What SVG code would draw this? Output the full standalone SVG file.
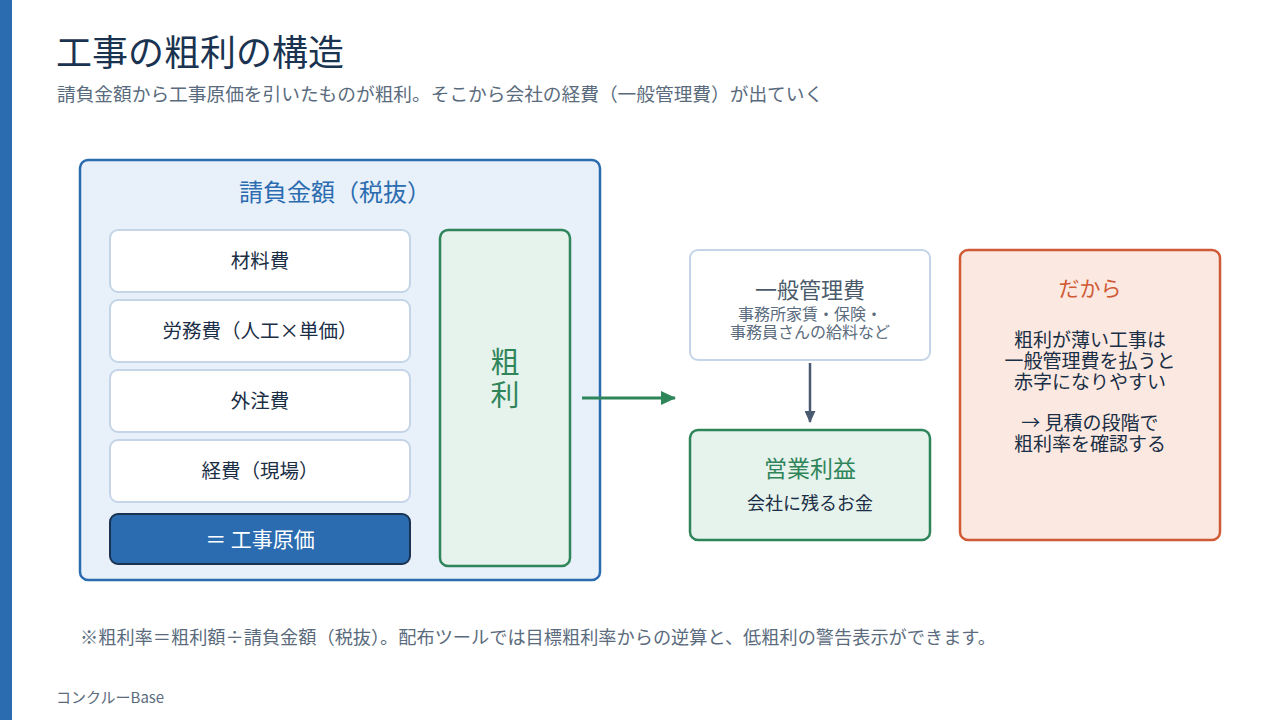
<svg xmlns="http://www.w3.org/2000/svg" width="1280" height="720" viewBox="0 0 1280 720">
<defs>
<style>
text{font-family:"Noto Sans CJK JP","Noto Sans",sans-serif;}
.item{fill:#ffffff;stroke:#c5d5e8;stroke-width:2;}
.itxt{font-size:19.5px;fill:#1a2e45;text-anchor:middle;}
.green{fill:#e6f2ec;stroke:#2f855a;stroke-width:2.5;}
</style>
<marker id="ag" markerWidth="15" markerHeight="14" refX="14" refY="7" orient="auto" markerUnits="userSpaceOnUse"><path d="M0,0 L15,7 L0,14 Z" fill="#2f855a"/></marker>
<marker id="agr" markerWidth="12" markerHeight="11" refX="11" refY="5.5" orient="auto" markerUnits="userSpaceOnUse"><path d="M0,0 L12,5.5 L0,11 Z" fill="#4a5a70"/></marker>
</defs>
<rect width="1280" height="720" fill="#ffffff"/>
<rect x="0" y="0" width="12" height="720" fill="#2b6cb0"/>
<text x="56" y="66" font-size="36" fill="#1a3350">工事の粗利の構造</text>
<text x="57" y="101" font-size="18.7" fill="#5a6b7d">請負金額から工事原価を引いたものが粗利。そこから会社の経費（一般管理費）が出ていく</text>

<g id="main">
<rect x="80" y="160" width="520" height="420" rx="8" fill="#e8f0fa" stroke="#2b6cb0" stroke-width="2.5"/>
<text x="335" y="201" font-size="24" fill="#2b6cb0" text-anchor="middle">請負金額（税抜）</text>
</g>
<g id="n1"><rect class="item" x="110" y="230" width="300" height="62" rx="8"/><text class="itxt" x="260" y="268">材料費</text></g>
<g id="n2"><rect class="item" x="110" y="300" width="300" height="62" rx="8"/><text class="itxt" x="260" y="338">労務費（人工×単価）</text></g>
<g id="n3"><rect class="item" x="110" y="370" width="300" height="62" rx="8"/><text class="itxt" x="260" y="408">外注費</text></g>
<g id="n4"><rect class="item" x="110" y="440" width="300" height="62" rx="8"/><text class="itxt" x="260" y="478">経費（現場）</text></g>
<g id="cost"><rect x="110" y="514" width="300" height="50" rx="8" fill="#2b6cb0" stroke="#1a3350" stroke-width="2"/><text x="260" y="547" font-size="21" fill="#ffffff" text-anchor="middle">＝ 工事原価</text></g>
<g id="gross"><rect class="green" x="440" y="230" width="130" height="336" rx="8"/>
<text font-size="29" fill="#2f855a" text-anchor="middle"><tspan x="505" y="373">粗</tspan><tspan x="505" y="406">利</tspan></text></g>

<g id="admin"><rect x="690" y="250" width="240" height="110" rx="8" fill="#ffffff" stroke="#c5d5e8" stroke-width="2"/>
<text x="810" y="298" font-size="22" fill="#4a5a6a" text-anchor="middle">一般管理費</text>
<text font-size="16" fill="#5a6b7d" text-anchor="middle"><tspan x="810" y="320">事務所家賃・保険・</tspan><tspan x="810" y="338">事務員さんの給料など</tspan></text></g>

<g id="op"><rect class="green" x="690" y="430" width="240" height="110" rx="8"/>
<text x="810" y="477" font-size="23" fill="#2f855a" text-anchor="middle">営業利益</text>
<text x="810" y="510" font-size="18" fill="#1a2e45" text-anchor="middle">会社に残るお金</text></g>

<g id="note"><rect x="960" y="250" width="260" height="290" rx="8" fill="#fbe9e1" stroke="#d05a35" stroke-width="2.5"/>
<text x="1090" y="296" font-size="21" fill="#d05a35" text-anchor="middle">だから</text>
<text font-size="19" fill="#1a2e45" text-anchor="middle"><tspan x="1090" y="347">粗利が薄い工事は</tspan><tspan x="1090" y="368">一般管理費を払うと</tspan><tspan x="1090" y="389">赤字になりやすい</tspan><tspan x="1090" y="430">→ 見積の段階で</tspan><tspan x="1090" y="451">粗利率を確認する</tspan></text>
</g>

<g id="connectors">
<line x1="582" y1="398" x2="675" y2="398" stroke="#2f855a" stroke-width="3" marker-end="url(#ag)"/>
<line x1="810" y1="363" x2="810" y2="422" stroke="#4a5a70" stroke-width="2.5" marker-end="url(#agr)"/>
</g>

<text x="80" y="644" font-size="18.2" fill="#5a6b7d">※粗利率＝粗利額÷請負金額（税抜）。配布ツールでは目標粗利率からの逆算と、低粗利の警告表示ができます。</text>
<text x="56" y="703" font-size="15" fill="#5a6b7d">コンクルーBase</text>
</svg>
